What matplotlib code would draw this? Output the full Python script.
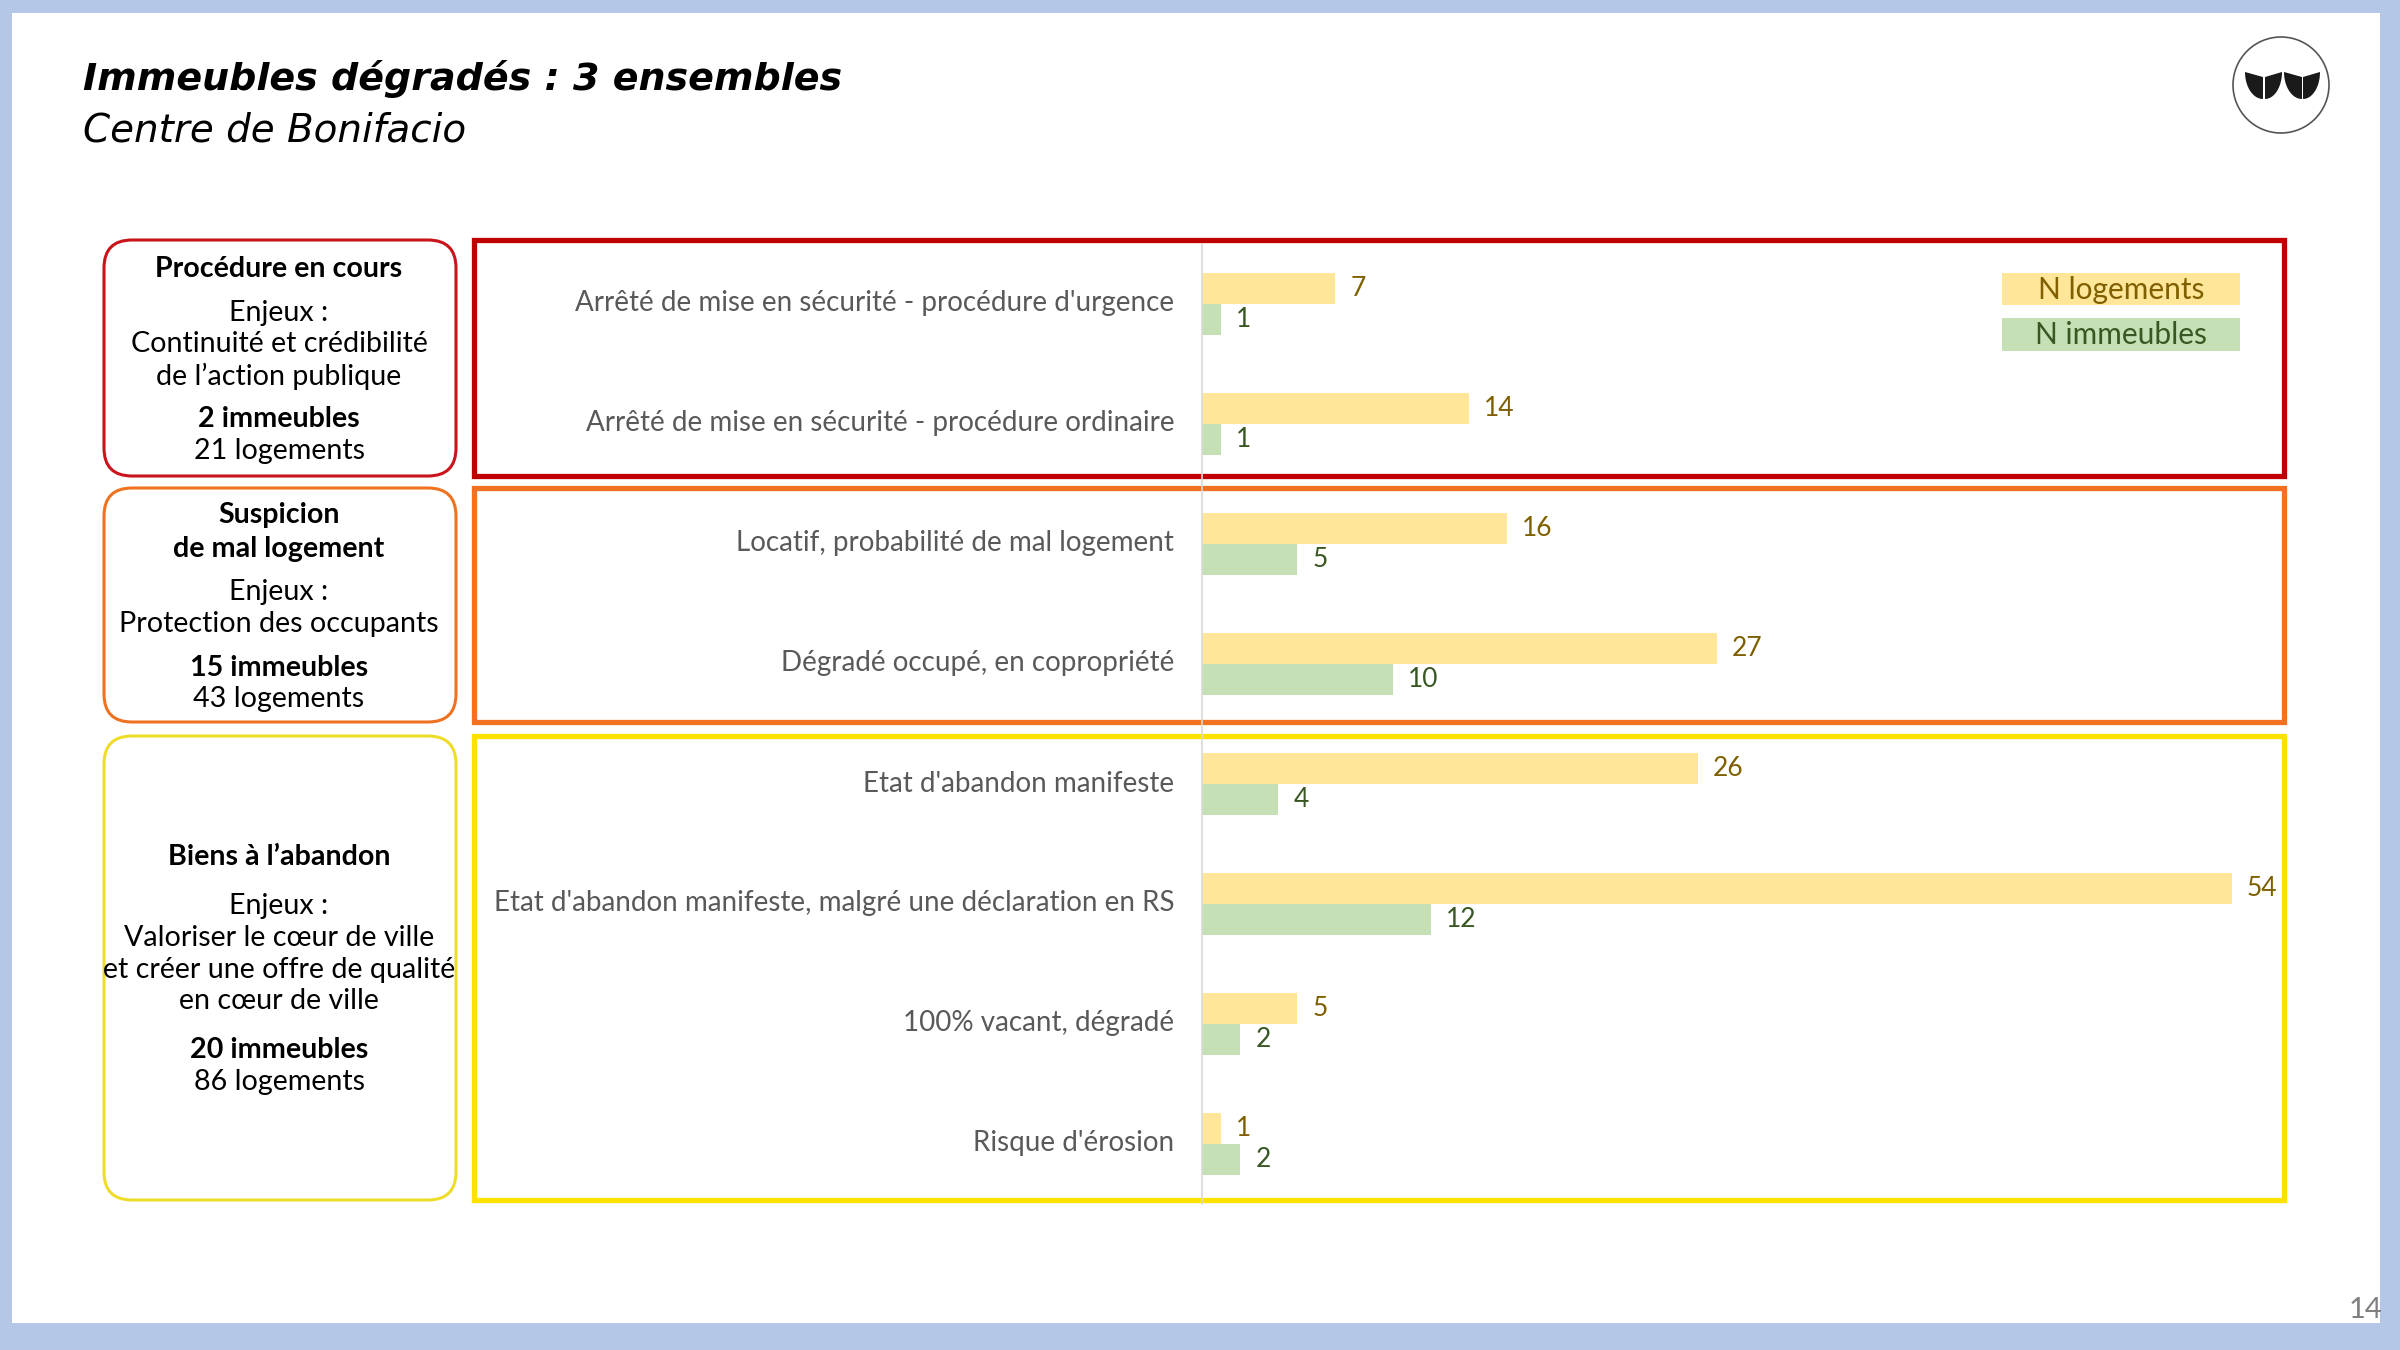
import numpy as np
import matplotlib.pyplot as plt
import matplotlib.transforms as mtransforms
from matplotlib.patches import Rectangle, FancyBboxPatch, Circle, Polygon

# ==================================================
# données
# ==================================================
categories = [
    "Arrêté de mise en sécurité - procédure d'urgence",
    "Arrêté de mise en sécurité - procédure ordinaire",
    "Locatif, probabilité de mal logement",
    "Dégradé occupé, en copropriété",
    "Etat d'abandon manifeste",
    "Etat d'abandon manifeste, malgré une déclaration en RS",
    "100% vacant, dégradé",
    "Risque d'érosion",
]
n_logements = [7, 14, 16, 27, 26, 54, 5, 1]
n_immeubles = [1, 1, 5, 10, 4, 12, 2, 2]

group_titles = [["Procédure en cours"], ["Suspicion", "de mal logement"], ["Biens à l’abandon"]]
group_enjeux = [
    ["Continuité et crédibilité", "de l’action publique"],
    ["Protection des occupants"],
    ["Valoriser le cœur de ville", "et créer une offre de qualité", "en cœur de ville"],
]
group_immeubles = ["2 immeubles", "15 immeubles", "20 immeubles"]
group_logements = ["21 logements", "43 logements", "86 logements"]

# ==================================================
# styles
# ==================================================
plt.rcParams['font.family'] = ['Lato', 'DejaVu Sans']
W, H = 2400, 1350
col_log = '#ffe699'
col_imm = '#c5e0b4'
txt_log = '#7f6000'
txt_imm = '#385723'
group_colors = ['#c00000', '#f07221', '#ffe100']
left_colors = ['#c9141c', '#f07221', '#eedc2a']
# positions des cadres (pixels)
box_tops = [240, 488, 736]
box_bottoms = [476, 722, 1200]
# positions verticales des lignes de texte des cadres de gauche (pixels)
line_y = [
    [269, 313, 344, 376, 419, 451],
    [515, 549, 592, 624, 668, 699],
    [857, 906, 938, 970, 1001, 1050, 1082],
]

fig = plt.figure(figsize=(24, 13.5), dpi=100)
fig.patch.set_facecolor('#b4c7e7')

# fond en coordonnées pixels
bg = fig.add_axes([0, 0, 1, 1])
bg.set_xlim(0, W)
bg.set_ylim(H, 0)
bg.axis('off')
bg.add_patch(Rectangle((12, 13), 2368, 1310, facecolor='white', edgecolor='none'))

# titre
bg.text(83, 90, "Immeubles dégradés : 3 ensembles", fontsize=27.4, fontweight='bold',
        fontstyle='italic', va='baseline', ha='left', color='black', family='DejaVu Sans')
bg.text(83, 142, "Centre de Bonifacio", fontsize=28, fontstyle='italic',
        va='baseline', ha='left', color='black', family='DejaVu Sans')

# logo
bg.add_patch(Circle((2281, 85), 48, facecolor='white', edgecolor='#555555', lw=1.2))
t = np.linspace(0, np.pi / 2, 20)
for xo, xi in [(2245, 2263), (2282, 2265), (2284, 2302), (2320, 2303)]:
    top, bot = 72, 99
    xs = [xi, xi] + list(xi - (xi - xo) * np.sin(t))
    ys = [top + 5, bot] + list(bot - (bot - top) * (1 - np.cos(t)))
    bg.add_patch(Polygon(np.column_stack([xs, ys]), closed=True,
                         facecolor='#1a1a1a', edgecolor='none'))

# numéro de page
bg.text(2382, 1323, "14", fontsize=21, color='#7f7f7f', ha='right', va='bottom')

# cadres
for i in range(3):
    tp, b = box_tops[i], box_bottoms[i]
    bg.add_patch(FancyBboxPatch((104, tp), 352, b - tp, boxstyle="round,pad=0,rounding_size=28",
                                facecolor='none', edgecolor=left_colors[i], lw=2.2))
    bg.add_patch(Rectangle((474, tp), 2284 - 474, b - tp, facecolor='none',
                           edgecolor=group_colors[i], lw=3.8))

# texte des cadres de gauche
cx = 279
fs = 20.6
for i in range(3):
    ys = line_y[i]
    k = 0
    for line in group_titles[i]:
        bg.text(cx, ys[k], line, fontsize=fs, fontweight='bold', ha='center', va='center')
        k += 1
    bg.text(cx, ys[k], "Enjeux :", fontsize=fs, ha='center', va='center')
    k += 1
    for line in group_enjeux[i]:
        bg.text(cx, ys[k], line, fontsize=fs, ha='center', va='center')
        k += 1
    bg.text(cx, ys[k], group_immeubles[i], fontsize=fs, fontweight='bold', ha='center', va='center')
    bg.text(cx, ys[k + 1], group_logements[i], fontsize=fs, ha='center', va='center')

# légende
bg.add_patch(Rectangle((2002, 273), 238, 32, facecolor=col_log, edgecolor='none'))
bg.add_patch(Rectangle((2002, 318), 238, 33, facecolor=col_imm, edgecolor='none'))
bg.text(2121, 290, "N logements", fontsize=21.5, color=txt_log, ha='center', va='center')
bg.text(2121, 335, "N immeubles", fontsize=21.5, color=txt_imm, ha='center', va='center')

# ==================================================
# barres
# ==================================================
ax = fig.add_axes([1202 / W, 1 - 1204 / H, (2284 - 1202) / W, 960 / H])
ax.patch.set_alpha(0)
pos = list(range(len(categories)))
bh = 0.26
ax.barh([p - bh / 2 for p in pos], n_logements, height=bh, color=col_log)
ax.barh([p + bh / 2 for p in pos], n_immeubles, height=bh, color=col_imm)
for p, v in zip(pos, n_logements):
    ax.annotate(str(v), (v, p - bh / 2), xytext=(11, 0), textcoords='offset points',
                va='center', ha='left', fontsize=19, color=txt_log)
for p, v in zip(pos, n_immeubles):
    ax.annotate(str(v), (v, p + bh / 2), xytext=(11, 0), textcoords='offset points',
                va='center', ha='left', fontsize=19, color=txt_imm)

ax.set_xlim(0, 56.75)
ax.set_ylim(len(categories) - 0.5, -0.5)
ax.set_yticks(pos)
ax.set_yticklabels(categories, fontsize=20, color='#595959')
ax.tick_params(axis='y', length=0, pad=20)
# remonter un peu les libellés
shift = mtransforms.ScaledTranslation(0, 3 / 100, fig.dpi_scale_trans)
for lab in ax.get_yticklabels():
    lab.set_transform(lab.get_transform() + shift)
ax.set_xticks([])
for s in ['top', 'right', 'bottom']:
    ax.spines[s].set_visible(False)
ax.spines['left'].set_color('#d9d9d9')
ax.spines['left'].set_linewidth(1.2)

plt.savefig('out.png', dpi=100, facecolor=fig.get_facecolor())
